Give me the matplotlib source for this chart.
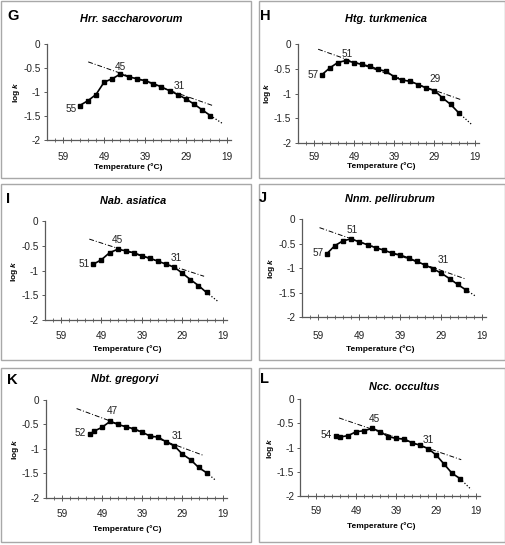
import numpy as np
import matplotlib
matplotlib.use('Agg')
import matplotlib.pyplot as plt
from matplotlib.patches import Rectangle
from matplotlib.ticker import FixedLocator

plt.rcParams['font.family'] = ['Liberation Sans', 'DejaVu Sans']
plt.rcParams['mathtext.fontset'] = 'custom'
plt.rcParams['mathtext.it'] = 'Liberation Sans:italic:bold'
plt.rcParams['mathtext.rm'] = 'Liberation Sans:bold'

# ---------------- data ----------------
letters = ['G', 'H', 'I', 'J', 'K', 'L']
titles = ['Hrr. saccharovorum', 'Htg. turkmenica', 'Nab. asiatica',
          'Nnm. pellirubrum', 'Nbt. gregoryi', 'Ncc. occultus']

x_ticks = [59, 49, 39, 29, 19]
y_ticks = [0, -0.5, -1, -1.5, -2]
y_tick_labels = ['0', '-0.5', '-1', '-1.5', '-2']
x_label = 'Temperature (°C)'

temp_G = [55, 53, 51, 49, 47, 45, 43, 41, 39, 37, 35, 33, 31, 29, 27, 25, 23]
logk_G = [-1.28, -1.18, -1.05, -0.79, -0.72, -0.62, -0.68, -0.72, -0.76,
          -0.82, -0.89, -0.97, -1.05, -1.14, -1.25, -1.37, -1.49]

temp_H = [57, 55, 53, 51, 49, 47, 45, 43, 41, 39, 37, 35, 33, 31, 29, 27, 25, 23]
logk_H = [-0.62, -0.48, -0.37, -0.33, -0.37, -0.41, -0.45, -0.51, -0.55,
          -0.66, -0.73, -0.75, -0.82, -0.89, -0.94, -1.09, -1.22, -1.39]

temp_I = [51, 49, 47, 45, 43, 41, 39, 37, 35, 33, 31, 29, 27, 25, 23]
logk_I = [-0.87, -0.78, -0.64, -0.57, -0.60, -0.64, -0.70, -0.75, -0.81,
          -0.87, -0.93, -1.05, -1.18, -1.30, -1.44]

temp_J = [57, 55, 53, 51, 49, 47, 45, 43, 41, 39, 37, 35, 33, 31, 29, 27, 25, 23]
logk_J = [-0.71, -0.54, -0.44, -0.40, -0.46, -0.52, -0.58, -0.63, -0.69,
          -0.73, -0.79, -0.86, -0.93, -1.01, -1.10, -1.21, -1.33, -1.44]

temp_K = [52, 51, 49, 47, 45, 43, 41, 39, 37, 35, 33, 31, 29, 27, 25, 23]
logk_K = [-0.70, -0.64, -0.56, -0.44, -0.50, -0.55, -0.59, -0.66, -0.74,
          -0.76, -0.86, -0.94, -1.11, -1.22, -1.38, -1.49]

temp_L = [54, 53, 51, 49, 47, 45, 43, 41, 39, 37, 35, 33, 31, 29, 27, 25, 23]
logk_L = [-0.75, -0.78, -0.75, -0.67, -0.65, -0.60, -0.67, -0.77, -0.81,
          -0.82, -0.90, -0.95, -1.02, -1.15, -1.34, -1.53, -1.64]

# labelled temperatures: start, optimum, break point
marks_G = [55, 45, 31]
marks_H = [57, 51, 29]
marks_I = [51, 45, 31]
marks_J = [57, 51, 31]
marks_K = [52, 47, 31]
marks_L = [54, 45, 31]

# extent of the dash-dot Arrhenius fit (from, to) and end of dotted extension
fit_span_G = (52.9, 22.3)
fit_span_H = (57.9, 22.3)
fit_span_I = (52.0, 23.6)
fit_span_J = (58.7, 23.1)
fit_span_K = (55.3, 23.6)
fit_span_L = (53.3, 22.7)
dot_end = [20.0, 19.8, 20.1, 20.6, 20.7, 20.2]

temps = [temp_G, temp_H, temp_I, temp_J, temp_K, temp_L]
logks = [logk_G, logk_H, logk_I, logk_J, logk_K, logk_L]
marks = [marks_G, marks_H, marks_I, marks_J, marks_K, marks_L]
spans = [fit_span_G, fit_span_H, fit_span_I, fit_span_J, fit_span_K, fit_span_L]

# ---------------- layout (pixels) ----------------
W, Hh = 506, 545
boxes = [(1, 1, 251, 178), (259, 1, 505, 178),
         (1, 184, 251, 360), (259, 184, 505, 360),
         (1, 368, 251, 542), (259, 368, 505, 542)]
# x pixel of 59 and 19, y pixel of 0 and -2
axes_px = [(63.3, 226.7, 44.3, 140.0), (313.7, 474.7, 44.3, 142.7),
           (61.0, 222.7, 221.0, 320.3), (318.3, 482.3, 219.3, 317.3),
           (61.7, 222.7, 400.0, 497.7), (316.3, 476.0, 399.3, 496.0)]
# centre y of the x tick labels
xtick_y = [155, 155, 334.3, 334.3, 511.7, 509]
title_px = [(131.5, 19), (386, 19), (133, 201), (389.5, 199), (125, 379.5), (404, 386.5)]
letter_px = [(7, 9), (260, 9), (6, 192), (259, 191), (7, 373), (260, 372)]
xlabel_px = [(128, 166.7), (381, 165.7), (127, 349), (380, 349.3), (127, 529), (381, 526)]
# label offsets in pixels (dx, dy) for start / optimum / break labels
break_off = [(2, 4), (1, 7), (2, 4), (10, 4), (3, 5), (0, 4)]
peak_off = [(0, 2), (1, 2), (0, 4), (1, 4), (2, 5), (2, 4)]
start_off = [(-3, -3), (-3, 0), (-4, 0), (-3, 1), (-4, 1), (-4, 1)]

fig = plt.figure(figsize=(W / 100, Hh / 100), dpi=100)


def fx(x):
    return x / W


def fy(y):
    return 1 - y / Hh


axis_col = '#5a5a5a'
tick_fs = 7.2
for i in range(6):
    bx0, by0, bx1, by1 = boxes[i]
    fig.patches.append(Rectangle((fx(bx0), fy(by1)), fx(bx1) - fx(bx0), fy(by0) - fy(by1),
                                 transform=fig.transFigure, fill=False,
                                 edgecolor='#a8a8a8', linewidth=1.0))
    x59, x19, y0, y2 = axes_px[i]
    ppd = (x19 - x59) / 40.0
    left = x59 - 4 * ppd
    right = x19 + 1 * ppd
    ax = fig.add_axes([fx(left), fy(y2), fx(right) - fx(left), fy(y0) - fy(y2)])
    ax.set_xlim(63, 18)
    ax.set_ylim(-2, 0)
    ax.patch.set_alpha(0)
    for s in ['top', 'right']:
        ax.spines[s].set_visible(False)
    for s in ['left', 'bottom']:
        ax.spines[s].set_color(axis_col)
        ax.spines[s].set_linewidth(0.9)
    ax.set_xticks(x_ticks)
    ax.set_xticklabels([str(t) for t in x_ticks])
    ax.xaxis.set_minor_locator(FixedLocator(np.arange(61, 18, -2)))
    ax.set_yticks(y_ticks)
    ax.set_yticklabels(y_tick_labels)
    # pad so that tick label centre lands at xtick_y (tick half length 2px, half text ~3.6px)
    pad_px = (xtick_y[i] - y2) - 2 - 3.7
    ax.tick_params(axis='x', which='major', direction='inout', length=4, width=0.7,
                   color=axis_col, labelsize=tick_fs, pad=pad_px * 0.72,
                   labelcolor='#222222')
    ax.tick_params(axis='x', which='minor', direction='inout', length=3, width=0.6,
                   color=axis_col)
    ax.tick_params(axis='y', which='major', direction='out', length=2.5, width=0.7,
                   color=axis_col, labelsize=tick_fs, pad=2, labelcolor='#222222')

    t = np.array(temps[i], dtype=float)
    y = np.array(logks[i], dtype=float)
    st, pk, br = marks[i]
    # middle (Arrhenius) segment fit, dash-dot
    m = (t <= pk) & (t >= br)
    c1 = np.polyfit(t[m], y[m], 1)
    xs = np.array(spans[i])
    ax.plot(xs, np.polyval(c1, xs), color='black', lw=0.7, ls=(0, (5, 2, 1, 2)))
    # low temperature segment fit, dotted extension
    m2 = t <= br
    c2 = np.polyfit(t[m2], y[m2], 1)
    xd = np.array([t[-1], dot_end[i]])
    yd = np.array([y[-1], y[-1] + c2[0] * (dot_end[i] - t[-1])])
    ax.plot(xd, yd, color='black', lw=0.9, ls=(0, (1, 1.5)))
    # data
    ax.plot(t, y, color='black', lw=1.2, marker='s', ms=3.4, mfc='black', mec='black')

    pt = 72 / 100.0
    for lab, off, ha, va in [(st, start_off[i], 'right', 'center'),
                             (pk, peak_off[i], 'center', 'bottom'),
                             (br, break_off[i], 'center', 'bottom')]:
        j = int(np.where(t == lab)[0][0])
        ax.annotate(str(lab), (t[j], y[j]), xytext=(off[0] * pt, off[1] * pt),
                    textcoords='offset points', ha=ha, va=va, fontsize=tick_fs,
                    color='#222222')

    fig.text(fx(title_px[i][0]), fy(title_px[i][1]), titles[i], ha='center', va='center',
             fontsize=7.8, fontweight='bold', fontstyle='italic')
    fig.text(fx(letter_px[i][0]), fy(letter_px[i][1]), letters[i], ha='left', va='top',
             fontsize=10.5, fontweight='bold')
    fig.text(fx(xlabel_px[i][0]), fy(xlabel_px[i][1]), x_label, ha='center', va='center',
             fontsize=6, fontweight='bold')
    fig.text(fx(left - 30), fy((y0 + y2) / 2), r'log $k$', ha='center', va='center',
             rotation=90, fontsize=6, fontweight='bold')

fig.savefig('out.png', dpi=100)
